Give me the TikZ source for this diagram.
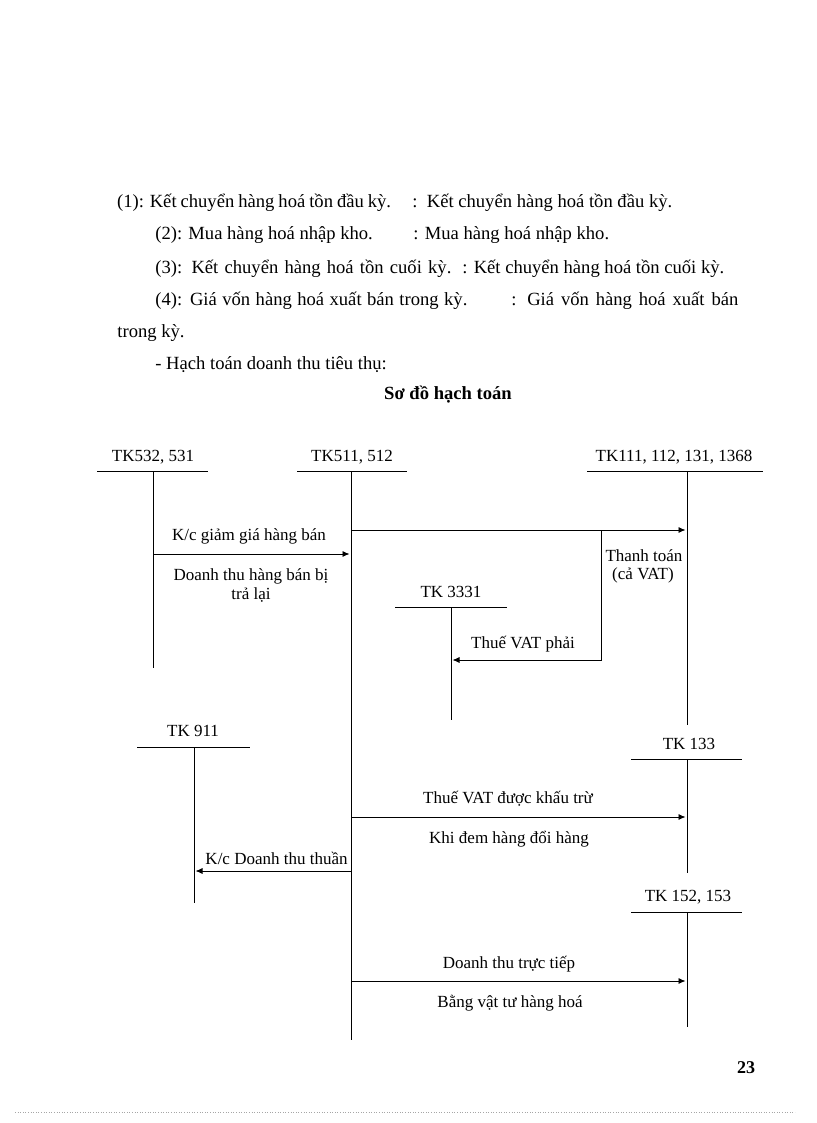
\documentclass[tikz,border=0pt]{standalone}
\usepackage{fontspec}
\setmainfont{Liberation Serif}
\usepackage{tikz}
\usetikzlibrary{arrows.meta}

\begin{document}
\begin{tikzpicture}[x=1pt,y=-1pt,line width=0.8pt,
    body/.style={inner sep=0pt,anchor=base west,font=\fontsize{18.6}{22}\selectfont},
    acc/.style={inner sep=0pt,anchor=base,font=\fontsize{17}{20}\selectfont},
    flow/.style={-{Latex[length=7pt,width=6pt]},shorten >=1.5pt}]
      \useasboundingbox (0,0) rectangle (816,1123);

      % text above the diagram
      \node[body] (r1a) at (116.7,208){\makebox[274pt][s]{(1): Kết chuyển hàng hoá tồn đầu kỳ.}};
      \node[body] (r1b) at (412,208){:~~Kết chuyển hàng hoá tồn đầu kỳ.};
      \node[body] (r2a) at (155,240){(2): Mua hàng hoá nhập kho.};
      \node[body] (r2b) at (413,240){: Mua hàng hoá nhập kho.};
      \node[body] (r3a) at (155,273){\makebox[296pt][s]{(3): Kết chuyển hàng hoá tồn cuối kỳ.}};
      \node[body] (r3b) at (462,273){: Kết chuyển hàng hoá tồn cuối kỳ.};
      \node[body] (r4a) at (155,305){\makebox[312pt][s]{(4): Giá vốn hàng hoá xuất bán trong kỳ.}};
      \node[body] (r4b) at (511,305){\makebox[227pt][s]{: Giá vốn hàng hoá xuất bán}};
      \node[body] (r5) at (117,337){trong kỳ.};
      \node[body] (r6) at (155,369){- Hạch toán doanh thu tiêu thụ:};
      \node[body,anchor=base,font=\fontsize{18.6}{22}\selectfont\bfseries] (title)
        at (448,399){Sơ đồ hạch toán};

      % T accounts
      \node[acc] (tk532) at (153,461){TK532, 531};
      \draw (97,471) -- (208,471);
      \coordinate (v532t) at (153,471);
      \coordinate (v532b) at (153,668);
      \draw (v532t) -- (v532b);

      \node[acc] (tk511) at (352,461){TK511, 512};
      \draw (297,471) -- (407,471);
      \coordinate (v511t) at (351,471);
      \coordinate (v511b) at (351,1040);
      \draw (v511t) -- (v511b);

      \node[acc] (tk111) at (674,461){TK111, 112, 131, 1368};
      \draw (587,471) -- (763,471);
      \coordinate (v111t) at (687,471);
      \coordinate (v111b) at (687,725);
      \draw (v111t) -- (v111b);

      \node[acc] (tk3331) at (451,597){TK 3331};
      \draw (395,607) -- (507,607);
      \coordinate (v3331t) at (451,607);
      \coordinate (v3331b) at (451,720);
      \draw (v3331t) -- (v3331b);

      \node[acc] (tk911) at (193,736){TK 911};
      \draw (137,747) -- (250,747);
      \coordinate (v911t) at (194,747);
      \coordinate (v911b) at (194,903);
      \draw (v911t) -- (v911b);

      \node[acc] (tk133) at (689,749){TK 133};
      \draw (631,759) -- (742,759);
      \coordinate (v133t) at (687,759);
      \coordinate (v133b) at (687,873);
      \draw (v133t) -- (v133b);

      \node[acc] (tk152) at (688,901){TK 152, 153};
      \draw (631,912) -- (742,912);
      \coordinate (v152t) at (687,912);
      \coordinate (v152b) at (687,1027);
      \draw (v152t) -- (v152b);

      % entries
      \coordinate (a1s) at (351,530);
      \coordinate (a1e) at (687,530);
      \coordinate (a1k) at (601,530);
      \coordinate (a2k) at (601,660);
      \coordinate (a2e) at (451,660);
      \draw[flow] (a1s) -- (a1e);
      \draw[flow] (a1k) -- (a2k) -- (a2e);
      \node[acc] (pay1) at (644,561){Thanh toán};
      \node[acc] (pay2) at (643,579){(cả VAT)};
      \node[acc] (vat1) at (523,648){Thuế VAT phải};

      \coordinate (b1s) at (153,554);
      \coordinate (b1e) at (351,554);
      \draw[flow] (b1s) -- (b1e);
      \node[acc] (ret0) at (249,540){K/c giảm giá hàng bán};
      \node[acc] (ret1) at (251,580){Doanh thu hàng bán bị};
      \node[acc] (ret2) at (251,599){trả lại};

      \coordinate (c1s) at (351,817);
      \coordinate (c1e) at (687,817);
      \draw[flow] (c1s) -- (c1e);
      \node[acc] (vat2) at (508,803){Thuế VAT được khấu trừ};
      \node[acc] (swap) at (509,843){Khi đem hàng đổi hàng};

      \coordinate (d1s) at (351,871);
      \coordinate (d1e) at (194,871);
      \draw[flow] (d1s) -- (d1e);
      \node[acc,anchor=base east] (net) at (348,864){K/c Doanh thu thuần};

      \coordinate (e1s) at (351,981);
      \coordinate (e1e) at (687,981);
      \draw[flow] (e1s) -- (e1e);
      \node[acc] (dir1) at (509,968){Doanh thu trực tiếp};
      \node[acc] (dir2) at (510,1007){Bằng vật tư hàng hoá};

      % page foot
      \node[acc,font=\fontsize{18}{20}\selectfont\bfseries] (page) at (746,1073){23};
      \draw[black!35,dotted,line width=0.6pt] (15,1112) -- (795,1112);
    \end{tikzpicture}
\end{document}
